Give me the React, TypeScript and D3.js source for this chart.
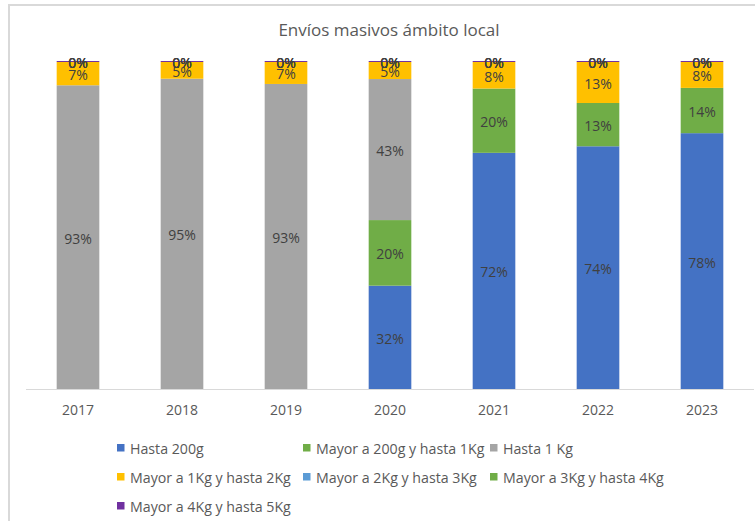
import React from "react";
import * as d3 from "d3";

const title = "Envíos masivos ámbito local";
const years = ["2017", "2018", "2019", "2020", "2021", "2022", "2023"];

const seriesNames = [
  "Hasta 200g",
  "Mayor a 200g y hasta 1Kg",
  "Hasta 1 Kg",
  "Mayor a 1Kg y hasta 2Kg",
  "Mayor a 2Kg y hasta 3Kg",
  "Mayor a 3Kg y hasta 4Kg",
  "Mayor a 4Kg y hasta 5Kg",
];
const seriesColors = ["#4472C4", "#70AD47", "#A5A5A5", "#FFC000", "#5B9BD5", "#70AD47", "#7030A0"];

const hasta200g: (number | null)[] = [null, null, null, 31.5, 72, 74, 78];
const mayor200gHasta1Kg: (number | null)[] = [null, null, null, 20, 19.6, 13.2, 13.8];
const hasta1Kg: (number | null)[] = [92.6, 94.6, 93.0, 43.0, null, null, null];
const mayor1KgHasta2Kg: (number | null)[] = [7.1, 5.1, 6.7, 5.2, 8.1, 12.5, 7.9];
const mayor2KgHasta3Kg: (number | null)[] = [0, 0, 0, 0, 0, 0, 0];
const mayor3KgHasta4Kg: (number | null)[] = [0, 0, 0, 0, 0, 0, 0];
const mayor4KgHasta5Kg: (number | null)[] = [0.3, 0.3, 0.3, 0.3, 0.3, 0.3, 0.3];

const seriesValues = [
  hasta200g,
  mayor200gHasta1Kg,
  hasta1Kg,
  mayor1KgHasta2Kg,
  mayor2KgHasta3Kg,
  mayor3KgHasta4Kg,
  mayor4KgHasta5Kg,
];

const W = 755;
const H = 521;
const FONT = "'Open Sans', 'DejaVu Sans', sans-serif";

export default function App() {
  const rows = years.map((y, i) => {
    const r: any = { year: y };
    seriesValues.forEach((s, k) => (r["s" + k] = s[i] ?? 0));
    return r;
  });
  const keys = seriesValues.map((_, k) => "s" + k);
  const stacked = d3.stack<any>().keys(keys).offset(d3.stackOffsetExpand)(rows);

  const plotLeft = 26;
  const plotRight = 754;
  const plotTop = 61;
  const plotBottom = 389;

  const x = d3.scaleBand().domain(years).range([plotLeft, plotRight]).paddingInner(0.59).paddingOuter(0.295);
  const y = d3.scaleLinear().domain([0, 1]).range([plotBottom, plotTop]);

  const legendCols = [117, 303, 490];
  const legendRows = [448, 477, 506];
  const legendPos = [
    [0, 0], [1, 0], [2, 0],
    [0, 1], [1, 1], [2, 1],
    [0, 2],
  ];

  return (
    <svg
      width={W}
      height={H}
      style={{ position: "absolute", left: 0, top: 0, background: "#fff" }}
      fontFamily={FONT}
    >
      <rect x={0} y={0} width={W} height={H} fill="#fff" />
      <rect x={9} y={5} width={W + 20} height={H + 20} fill="none" stroke="#D9D9D9" strokeWidth={2} />
      <text x={389} y={29} textAnchor="middle" dominantBaseline="central" fontSize={17} fill="#595959">
        {title}
      </text>
      {stacked.map((layer, k) =>
        layer.map((d, i) => {
          const x0 = x(years[i])!;
          const y0 = y(d[1]);
          const h = y(d[0]) - y(d[1]);
          return h > 0 ? (
            <rect key={`r${k}-${i}`} x={x0} y={y0} width={x.bandwidth()} height={h} fill={seriesColors[k]} />
          ) : null;
        })
      )}
      <line x1={plotLeft} x2={plotRight} y1={plotBottom + 0.5} y2={plotBottom + 0.5} stroke="#D9D9D9" strokeWidth={1} />
      {stacked.map((layer, k) =>
        layer.map((d, i) => {
          const v = seriesValues[k][i];
          if (v === null) return null;
          const total = d3.sum(seriesValues, (s) => s[i] ?? 0);
          const pct = Math.round((v / total) * 100);
          const cy = (y(d[0]) + y(d[1])) / 2;
          return (
            <text
              key={`t${k}-${i}`}
              x={x(years[i])! + x.bandwidth() / 2}
              y={cy + 1}
              textAnchor="middle"
              dominantBaseline="central"
              fontSize={14}
              fill="#404040"
            >
              {pct}%
            </text>
          );
        })
      )}
      {years.map((yr) => (
        <text
          key={yr}
          x={x(yr)! + x.bandwidth() / 2}
          y={409}
          textAnchor="middle"
          dominantBaseline="central"
          fontSize={14}
          fill="#595959"
        >
          {yr}
        </text>
      ))}
      {seriesNames.map((name, k) => {
        const [c, r] = legendPos[k];
        const lx = legendCols[c];
        const ly = legendRows[r];
        return (
          <g key={name}>
            <rect x={lx} y={ly - 4} width={7.5} height={7.5} fill={seriesColors[k]} />
            <text x={lx + 13} y={ly} dominantBaseline="central" fontSize={14.2} fill="#595959">
              {name}
            </text>
          </g>
        );
      })}
    </svg>
  );
}
